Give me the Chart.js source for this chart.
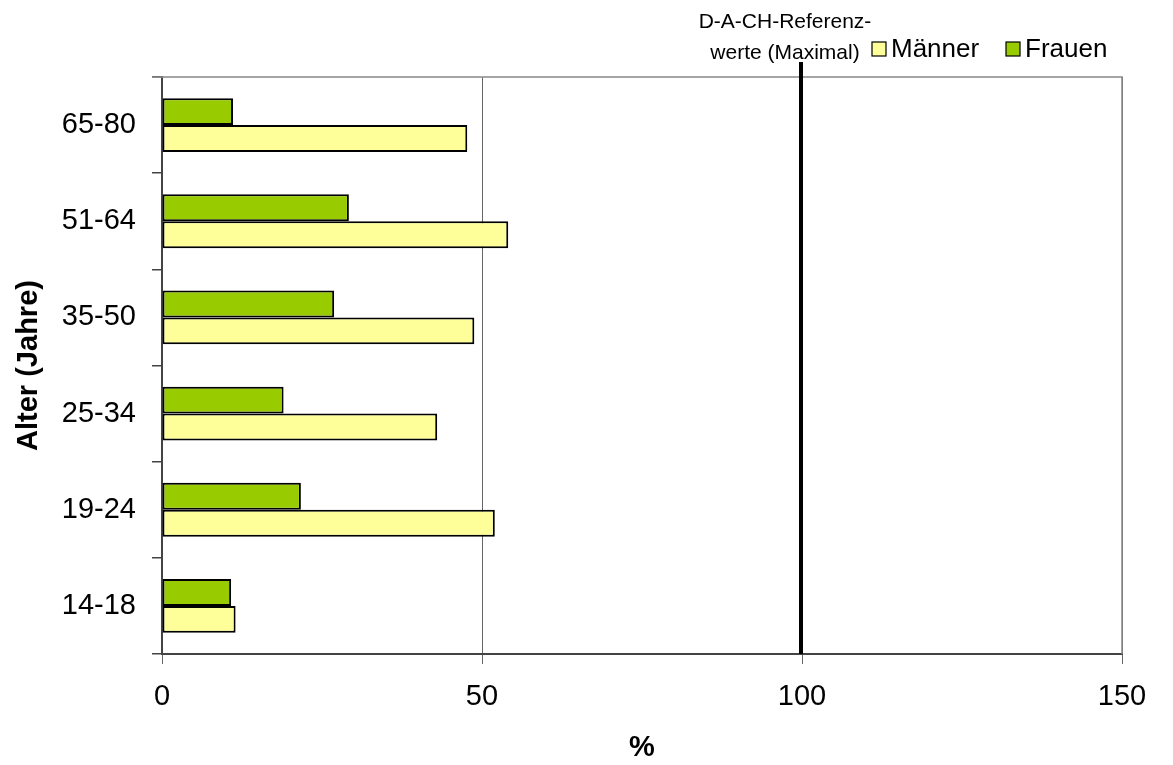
<!DOCTYPE html>
<html>
<head>
<meta charset="utf-8">
<script src="https://cdn.jsdelivr.net/npm/chart.js@4"></script>
<style>
  html, body { margin: 0; padding: 0; background: #fff; }
  #wrap { width: 1173px; height: 765px; }
</style>
</head>
<body>
<div id="wrap"><canvas id="ageChart" width="1173" height="765"></canvas></div>
<script>
const ageGroups = ['65-80', '51-64', '35-50', '25-34', '19-24', '14-18'];
const maenner = [47.7, 54.1, 48.8, 43.0, 52.0, 11.5];
const frauen = [11.1, 29.2, 26.9, 19.0, 21.7, 10.8];
const xTicks = [0, 50, 100, 150];
const refValue = 100;
const refLabel = ['D-A-CH-Referenz-', 'werte (Maximal)'];

const FONT = "'Liberation Sans', Arial, sans-serif";

// Frame (top and right edges), reference line and legend
const extras = {
    id: 'extras',
    afterDatasetsDraw(chart) {
        const { ctx, chartArea, scales } = chart;
        ctx.save();
        ctx.strokeStyle = '#888';
        ctx.lineWidth = 1.5;
        ctx.beginPath();
        ctx.moveTo(152, chartArea.top);
        ctx.lineTo(chartArea.right, chartArea.top);
        ctx.lineTo(chartArea.right, chartArea.bottom);
        ctx.stroke();

        const rx = scales.x.getPixelForValue(refValue) - 1;
        ctx.strokeStyle = '#000';
        ctx.lineWidth = 4;
        ctx.beginPath();
        ctx.moveTo(rx, 62);
        ctx.lineTo(rx, chartArea.bottom);
        ctx.stroke();

        ctx.fillStyle = '#000';
        ctx.font = '21px ' + FONT;
        ctx.textAlign = 'center';
        ctx.textBaseline = 'middle';
        ctx.fillText(refLabel[0], 785, 22);
        ctx.fillText(refLabel[1], 785, 53);

        // legend: Männer, Frauen
        const items = [chart.data.datasets[1], chart.data.datasets[0]];
        const xs = [872, 1006];
        ctx.font = '26px ' + FONT;
        ctx.textAlign = 'left';
        items.forEach((ds, i) => {
            ctx.fillStyle = ds.backgroundColor;
            ctx.fillRect(xs[i], 42, 14, 14);
            ctx.strokeStyle = '#000';
            ctx.lineWidth = 1.2;
            ctx.strokeRect(xs[i], 42, 14, 14);
            ctx.fillStyle = '#000';
            ctx.fillText(ds.label, xs[i] + 19, 50);
        });
        ctx.restore();
    }
};

const ctx = document.getElementById('ageChart').getContext('2d');
new Chart(ctx, {
    type: 'bar',
    data: {
        labels: ageGroups,
        datasets: [
            {
                label: 'Frauen',
                data: frauen,
                backgroundColor: '#99CC00',
                borderColor: '#000',
                borderWidth: 2,
                borderSkipped: false,
            },
            {
                label: 'Männer',
                data: maenner,
                backgroundColor: '#FFFF99',
                borderColor: '#000',
                borderWidth: 2,
                borderSkipped: false,
            },
        ],
    },
    options: {
        indexAxis: 'y',
        responsive: false,
        animation: false,
        devicePixelRatio: 1,
        categoryPercentage: 0.56,
        barPercentage: 1.0,
        layout: { padding: { top: 77, right: 51, left: 0, bottom: 0 } },
        plugins: {
            legend: { display: false },
            tooltip: { enabled: false },
        },
        scales: {
            x: {
                min: 0,
                max: 150,
                afterBuildTicks(scale) {
                    scale.ticks = xTicks.map(v => ({ value: v }));
                },
                afterFit(scale) { scale.height = 111; },
                grid: {
                    color: '#666',
                    lineWidth: 1,
                    tickLength: 10,
                    drawOnChartArea: true,
                },
                border: { color: '#444', width: 2 },
                ticks: {
                    color: '#000',
                    font: { family: FONT, size: 29 },
                    padding: 16,
                    maxRotation: 0,
                },
                title: {
                    display: true,
                    text: '%',
                    color: '#000',
                    font: { family: FONT, size: 29, weight: 'bold' },
                    padding: { top: 0, bottom: 0 },
                },
            },
            y: {
                afterFit(scale) { scale.width = 162; },
                grid: {
                    offset: true,
                    drawOnChartArea: false,
                    color: '#444',
                    tickLength: 10,
                    lineWidth: 1.5,
                },
                border: { color: '#444', width: 2 },
                ticks: {
                    color: '#000',
                    font: { family: FONT, size: 29 },
                    padding: 16,
                },
                title: {
                    display: true,
                    text: 'Alter (Jahre)',
                    color: '#000',
                    font: { family: FONT, size: 29, weight: 'bold' },
                    padding: { top: 12, bottom: 0 },
                },
            },
        },
    },
    plugins: [extras],
});
</script>
</body>
</html>
